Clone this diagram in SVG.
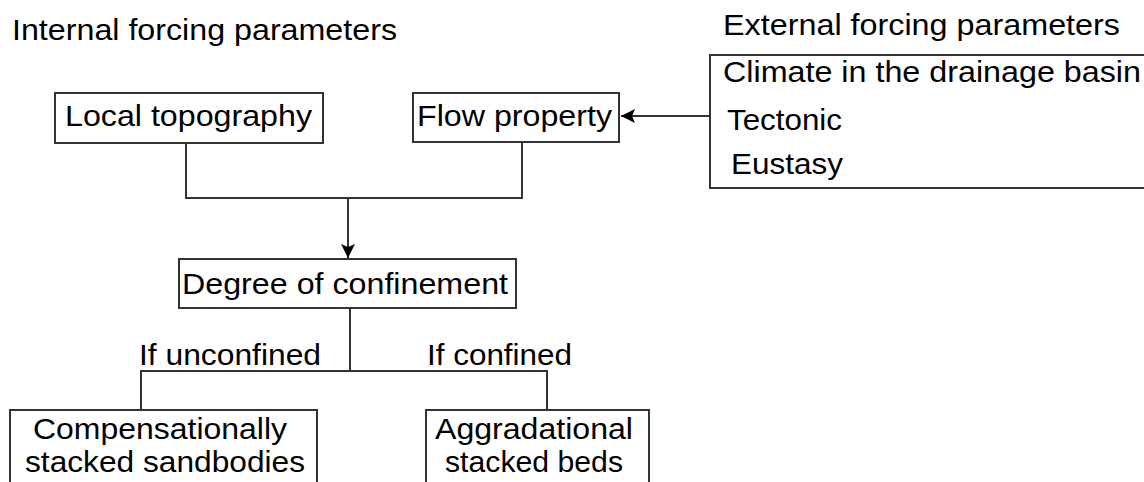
<svg xmlns="http://www.w3.org/2000/svg" width="1144" height="482" viewBox="0 0 1144 482">
<style>
  text { font-family: "Liberation Sans", Arial, sans-serif; font-size: 30px; fill: #000; }
  .box { fill: #fff; stroke: #333; stroke-width: 2; }
  .conn { fill: none; stroke: #333; stroke-width: 2; }
</style>
<defs>
  <marker id="arrow" markerUnits="userSpaceOnUse" markerWidth="16" markerHeight="14" refX="14" refY="7" orient="auto">
    <path d="M0,0 L14,7 L0,14 L3,7 Z" fill="#000"/>
  </marker>
</defs>
<rect width="1144" height="482" fill="#fff"/>

<g id="title-internal">
  <text x="12" y="40" textLength="385" lengthAdjust="spacingAndGlyphs">Internal forcing parameters</text>
</g>
<g id="title-external">
  <text x="723" y="35" textLength="397" lengthAdjust="spacingAndGlyphs">External forcing parameters</text>
</g>

<g id="connectors">
  <path class="conn" d="M186,143 V198 H522 V143"/>
  <path class="conn" d="M348,198 V258" marker-end="url(#arrow)"/>
  <path class="conn" d="M710,116 H621" marker-end="url(#arrow)"/>
  <path class="conn" d="M350,308 V371"/>
  <path class="conn" d="M141,410 V371 H547 V410"/>
</g>

<g id="node-local-topography">
  <rect class="box" x="55" y="93" width="268" height="50"/>
  <text x="65" y="126" textLength="247" lengthAdjust="spacingAndGlyphs">Local topography</text>
</g>
<g id="node-flow-property">
  <rect class="box" x="413" y="93" width="206" height="49"/>
  <text x="417" y="126" textLength="195" lengthAdjust="spacingAndGlyphs">Flow property</text>
</g>
<g id="node-external">
  <rect class="box" x="710" y="55" width="450" height="133"/>
  <text x="723" y="82" textLength="418" lengthAdjust="spacingAndGlyphs">Climate in the drainage basin</text>
  <text x="727" y="130" textLength="115" lengthAdjust="spacingAndGlyphs">Tectonic</text>
  <text x="731" y="174" textLength="112" lengthAdjust="spacingAndGlyphs">Eustasy</text>
</g>
<g id="node-degree">
  <rect class="box" x="179" y="259" width="337" height="49"/>
  <text x="182" y="294" textLength="326" lengthAdjust="spacingAndGlyphs">Degree of confinement</text>
</g>
<g id="label-unconfined">
  <text x="139" y="365" textLength="182" lengthAdjust="spacingAndGlyphs">If unconfined</text>
</g>
<g id="label-confined">
  <text x="427" y="365" textLength="145" lengthAdjust="spacingAndGlyphs">If confined</text>
</g>
<g id="node-compensational">
  <rect class="box" x="10" y="410" width="307" height="90"/>
  <text x="33" y="439" textLength="254" lengthAdjust="spacingAndGlyphs">Compensationally</text>
  <text x="25" y="472" textLength="280" lengthAdjust="spacingAndGlyphs">stacked sandbodies</text>
</g>
<g id="node-aggradational">
  <rect class="box" x="426" y="410" width="223" height="90"/>
  <text x="435" y="439" textLength="198" lengthAdjust="spacingAndGlyphs">Aggradational</text>
  <text x="445" y="472" textLength="178" lengthAdjust="spacingAndGlyphs">stacked beds</text>
</g>
</svg>
